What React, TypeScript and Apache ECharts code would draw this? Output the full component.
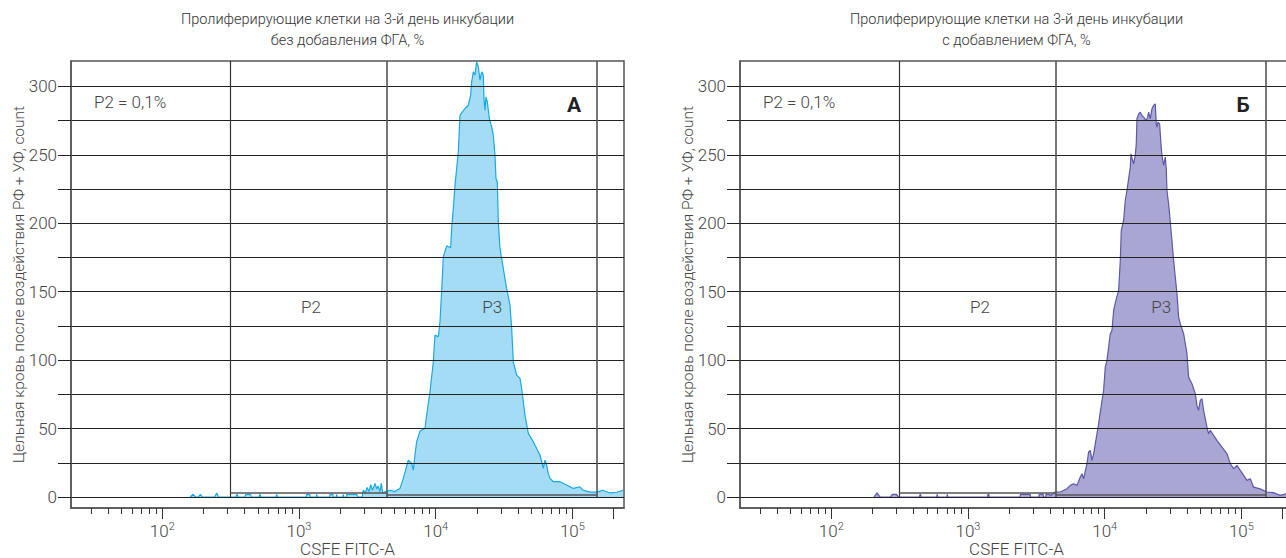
import React, { useEffect, useRef } from 'react';
import * as echarts from 'echarts';

const FONT = "Roboto, 'Noto Sans', sans-serif";

// ---- texts ----
const titleLine1 = 'Пролиферирующие клетки на 3-й день инкубации';
const titleLine2 = ['без добавления ФГА, %', 'с добавлением ФГА, %'];
const yName = 'Цельная кровь после воздействия РФ + УФ, count';
const xName = 'CSFE FITC-A';
const panelLetters = ['А', 'Б'];
const gateNote = 'P2 = 0,1%';
const gateNames = ['P2', 'P3'];

// ---- axes ----
const yMin = -8;
const yMax = 318.5;
const xMin = 21.5;
const xMax = 238500;
const yTicks = [0, 25, 50, 75, 100, 125, 150, 175, 200, 225, 250, 275, 300];
const yLabels = [0, 50, 100, 150, 200, 250, 300];
const xMajorTicks = [100, 1000, 10000, 100000, 200000];
const xLabelTicks = [100, 1000, 10000, 100000];
const xMinorTicks = [
  30, 40, 50, 60, 70, 80, 90,
  200, 300, 400, 500, 600, 700, 800, 900,
  2000, 3000, 4000, 5000, 6000, 7000, 8000, 9000,
  20000, 30000, 40000, 50000, 60000, 70000, 80000, 90000,
];

// ---- gates ----
const gateP2 = [314, 4385];
const gateP3 = [4385, 150700];
const gateP2Level = 3.2;
const gateP3Level = 1.6;
const gateLabelX = [1225, 25900];
const gateLabelY = 139;

// ---- histogram A (без ФГА) ----
const fitcA = [
  160, 168, 176, 183, 190, 197, 242, 250, 258, 345, 352, 360, 400, 410, 440, 452, 510, 518, 526, 680, 688, 696,
  1130, 1140, 1200, 1210, 1340, 1350, 1360, 1680, 1690, 1770, 1780, 1880, 1890, 1900, 2100, 2110, 2120, 2230, 2240, 2640, 2700,
  2900, 2950, 3050, 3150, 3250, 3350, 3450, 3600, 3700, 3800,
  3913, 4000, 4100, 4300, 4633, 5000,
  5481, 5798, 6305, 6672, 6860, 7055, 7256, 7678, 8349, 8587,
  9085, 9610, 9881, 10452, 10750, 11055, 11370, 12030, 12870, 13088,
  13460, 13843, 14237, 14641, 15058, 16380, 17325, 18020, 18330, 18850,
  19385, 19937, 20505, 21086, 21687, 22304, 22556, 22938, 23330, 23860,
  24680, 25670, 26400, 27150, 27610, 28230, 28720, 29530, 31230, 33040,
  34950, 35950, 36970, 39110, 41370, 42550, 45000, 47600, 51800, 54770,
  57940, 61290, 63020, 64810, 66650, 68550, 72510, 81170, 90790, 101600,
  113650, 119400, 134500, 150700, 167300, 188400, 211000, 234600,
];
const countA = [
  0, 2, 0, 0, 2, 0, 0, 3, 0, 0, 2, 0, 0, 2, 2, 0, 0, 2, 0, 0, 2, 0,
  0, 2, 2, 0, 0, 2, 0, 0, 2, 2, 0, 0, 2, 0, 0, 2, 0, 0, 2, 2, 0,
  0, 5, 3, 7, 4, 9, 5, 10, 6, 8,
  4, 10, 3, 4, 5, 4,
  6.3, 13.6, 27, 24.6, 19.7, 30.7, 40.4, 48.2, 50.1, 59.9,
  76.9, 98.8, 118.3, 117.1, 128, 149.9, 175.5, 183.5, 182.1, 196.2,
  210.8, 227.8, 240, 252.2, 278.9, 283.8, 286.2, 293.5, 303.3, 310.6,
  308.2, 317.9, 314.2, 304.5, 310.6, 308.2, 291.1, 282.6, 292.3, 288.7,
  276.5, 270.4, 264.3, 249.7, 232.7, 230.3, 201.1, 181.6, 167, 152.4,
  140.2, 123.2, 98.8, 89.1, 86.7, 79.3, 59.9, 46.5, 40.4, 35.5,
  30.7, 20.9, 27, 23.4, 17.3, 13.6, 11.2, 11.2, 8.8, 6.3,
  7.5, 5, 3.6, 3.6, 5, 3, 3.5, 5,
];

// ---- histogram Б (с ФГА) ----
const fitcB = [
  205, 216, 228, 270, 280, 300, 310, 440, 448, 456, 590, 596, 602, 700, 706, 712,
  1390, 1400, 1420, 1430, 2400, 2420, 2850, 2870, 3300, 3320, 3550, 3560, 3700, 3720, 3950, 4000,
  4351, 4734, 5297, 5603, 5925, 6268, 6630, 6819, 7014, 7418,
  7629, 7846, 8070, 8300, 8779, 9029, 9286, 9822, 10102, 10389,
  10686, 10990, 11303, 11626, 12160, 12648, 13007, 13227, 13756, 14147,
  14550, 14965, 15390, 15564, 16005, 16278, 16740, 17025, 17220, 17710,
  18215, 18733, 19266, 20150, 20610, 20960, 21560, 22170, 22800, 23450,
  23850, 24115, 24525, 25225, 25797, 26235, 26980, 27750, 28220, 28540,
  29350, 30190, 31050, 31940, 32850, 33790, 34745, 35730, 37790, 39980,
  41110, 43480, 45990, 47300, 48650, 50030, 51460, 52920, 55980, 57570,
  59210, 62630, 66250, 72110, 78430, 82960, 87750, 92820, 98170, 103850,
  109850, 116170, 122650, 137250, 153640, 170900, 192200, 212700, 238000,
];
const countB = [
  0, 3, 0, 0, 2, 2, 0, 0, 2, 0, 0, 2, 0, 0, 2, 0,
  0, 2, 2, 0, 0, 2, 2, 0, 0, 2, 2, 0, 0, 2, 2, 1,
  3.7, 3.7, 6.1, 8.5, 9.7, 8.5, 14.6, 17, 13.4, 24.3,
  32.9, 34.1, 26.8, 31.6, 46.2, 53.5, 62.1, 77.9, 94.9, 99.8,
  109.5, 119.3, 121.7, 136.3, 144.8, 150.9, 172.8, 194.7, 202, 216.6,
  223.9, 232.4, 241, 250.7, 245.8, 243.4, 249.5, 258, 276.3, 279.9,
  281.1, 278.7, 277.5, 275, 277.5, 281.1, 276.3, 283.6, 286, 287.2,
  272.6, 270.2, 273.8, 272.6, 258, 249.5, 242.2, 248.3, 239.7, 223.9,
  214.2, 200.8, 187.4, 172.8, 160.6, 148.5, 131.4, 126.6, 119.3, 104.7,
  87.6, 82.8, 75.5, 66.9, 63.3, 70.6, 71.8, 63.3, 51.1, 46.2,
  48.7, 45, 41.4, 36.5, 31.6, 24.3, 20.7, 23.1, 19.5, 15.8,
  12.2, 13.4, 7.3, 6, 3.7, 3.2, 1.2, 2.4, 2,
];

const panels = [
  { fitc: fitcA, count: countA, line: '#19a9e2', fill: '#a5dcf5', left: 71 },
  { fitc: fitcB, count: countB, line: '#5d59a9', fill: '#aaa6d3', left: 740 },
];

const GRID_W = 553;
const GRID_TOP = 61;
const GRID_H = 447;
const TEXT = '#444';

function buildOption() {
  const grid: any[] = [];
  const xAxis: any[] = [];
  const yAxis: any[] = [];
  const series: any[] = [];
  const graphic: any[] = [];

  panels.forEach((p, i) => {
    grid.push({
      left: p.left, top: GRID_TOP, width: GRID_W, height: GRID_H,
      containLabel: false, outerBoundsMode: 'none',
      show: true, borderColor: '#555', borderWidth: 1.5, backgroundColor: 'transparent',
    });
    xAxis.push({
      gridIndex: i, type: 'log', logBase: 10, min: xMin, max: xMax, position: 'bottom',
      axisLine: { show: true, onZero: false, lineStyle: { color: '#555', width: 1.5 } },
      axisTick: { show: true, customValues: xMajorTicks, length: 11, lineStyle: { color: '#333', width: 1 } },
      axisLabel: {
        show: true, customValues: xLabelTicks, margin: 13,
        formatter: (v: number) => `{b|10}{s|${Math.round(Math.log10(v))}}`,
        rich: {
          b: { fontSize: 17, lineHeight: 20, color: TEXT, fontFamily: FONT, fontWeight: 300 },
          s: { fontSize: 11, lineHeight: 11, color: TEXT, fontFamily: FONT, verticalAlign: 'top', fontWeight: 300 },
        },
      },
      splitLine: { show: false },
      name: xName, nameLocation: 'middle', nameGap: 32, nameMoveOverlap: false,
      nameTextStyle: { fontSize: 17, lineHeight: 17, color: TEXT, fontFamily: FONT, fontWeight: 300 },
    });
    xAxis.push({
      gridIndex: i, type: 'log', logBase: 10, min: xMin, max: xMax, position: 'bottom',
      axisLine: { show: false, onZero: false },
      axisTick: { show: true, customValues: xMinorTicks, length: 6, lineStyle: { color: '#333', width: 1 } },
      axisLabel: { show: false },
      splitLine: { show: false },
    });
    yAxis.push({
      gridIndex: i, type: 'value', min: yMin, max: yMax, z: 3,
      axisLine: { show: true, lineStyle: { color: '#555', width: 1.5 } },
      axisTick: { show: true, customValues: yTicks, length: 13, lineStyle: { color: '#222', width: 1 } },
      axisLabel: { show: true, customValues: yLabels, margin: 14, color: TEXT, fontSize: 17, fontFamily: FONT, fontWeight: 300 },
      splitLine: { show: true, lineStyle: { color: '#222', width: 1 } },
      name: yName, nameLocation: 'middle', nameGap: 44, nameMoveOverlap: false,
      nameTextStyle: { fontSize: 15.5, color: TEXT, fontFamily: FONT, fontWeight: 300 },
    });
    series.push({
      type: 'line',
      xAxisIndex: i * 2,
      yAxisIndex: i,
      data: p.fitc.map((x, k) => [x, p.count[k]]),
      showSymbol: false,
      symbol: 'none',
      lineStyle: { color: p.line, width: 1.2 },
      areaStyle: { color: p.fill, opacity: 1 },
      z: 2,
      markLine: {
        silent: true, symbol: 'none', animation: false,
        label: { show: false },
        lineStyle: { color: '#555', width: 1.6, type: 'solid' },
        data: [
          [{ coord: [gateP2[0], 0], lineStyle: { color: '#333', width: 1.2, type: 'solid' } }, { coord: [gateP2[0], yMax] }],
          [{ coord: [gateP2[1], 0] }, { coord: [gateP2[1], yMax] }],
          [{ coord: [gateP3[1], 0] }, { coord: [gateP3[1], yMax] }],
          [{ coord: [gateP2[0], gateP2Level] }, { coord: [gateP2[1], gateP2Level] }],
          [{ coord: [gateP3[0], gateP3Level] }, { coord: [gateP3[1], gateP3Level] }],
        ],
      },
      markPoint: {
        silent: true, animation: false,
        symbol: 'rect', symbolSize: 1,
        itemStyle: { color: 'transparent' },
        label: { show: true, position: 'inside', formatter: '{b}', color: TEXT, fontSize: 17, fontFamily: FONT, fontWeight: 300 },
        data: gateNames.map((n, k) => ({ name: n, coord: [gateLabelX[k], gateLabelY] })),
      },
    });

    const cx = p.left + GRID_W / 2;
    graphic.push({
      type: 'text', x: cx, y: 8.5,
      style: {
        text: titleLine1 + '\n' + titleLine2[i], align: 'center', verticalAlign: 'top',
        lineHeight: 21, fontSize: 14.5, fontFamily: FONT, fontWeight: 300, fill: '#333',
      },
    });
    graphic.push({
      type: 'text', x: p.left + 23, y: 102,
      style: { text: gateNote, align: 'left', verticalAlign: 'middle', fontSize: 17, fontFamily: FONT, fontWeight: 300, fill: TEXT },
    });
    graphic.push({
      type: 'text', x: p.left + 503, y: 104.5,
      style: { text: panelLetters[i], align: 'center', verticalAlign: 'middle', fontSize: 21, fontFamily: FONT, fontWeight: 'bold', fill: '#222' },
    });
  });

  return {
    animation: false,
    backgroundColor: '#ffffff',
    textStyle: { fontFamily: FONT },
    grid, xAxis, yAxis, series, graphic,
  };
}

export default function App() {
  const ref = useRef<HTMLDivElement>(null);
  useEffect(() => {
    if (!ref.current) return;
    const chart = echarts.init(ref.current, undefined, { renderer: 'svg' });
    chart.setOption(buildOption() as any);
    return () => chart.dispose();
  }, []);
  return (
    <div
      ref={ref}
      style={{ position: 'fixed', left: 0, top: 0, width: 1286, height: 558, background: '#fff' }}
    />
  );
}
